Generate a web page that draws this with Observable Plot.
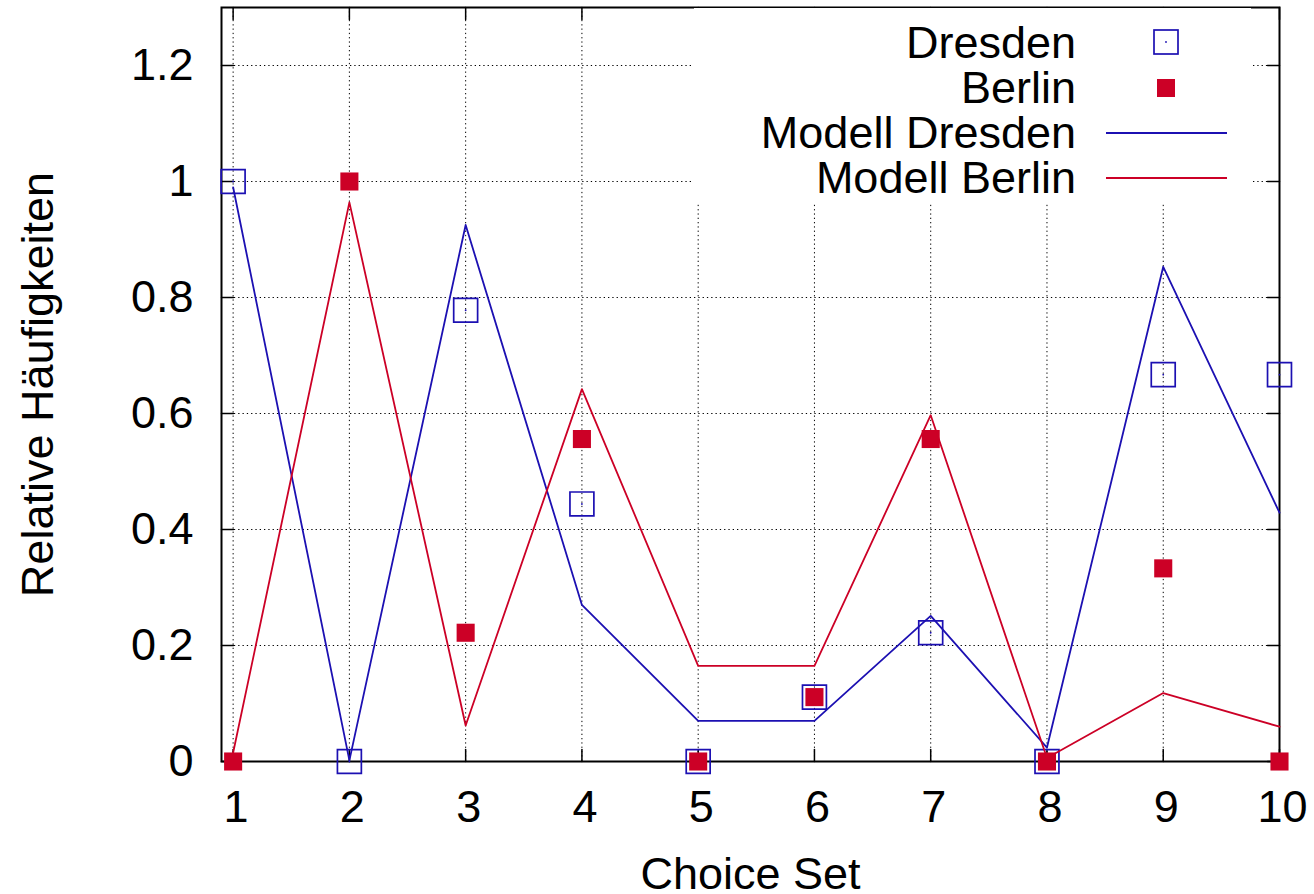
<!DOCTYPE html>
<html>
<head>
<meta charset="utf-8">
<script src="https://cdn.jsdelivr.net/npm/d3@7"></script>
<script src="https://cdn.jsdelivr.net/npm/@observablehq/plot@0.6"></script>
<style>
  html, body { margin: 0; padding: 0; background: white; }
  #wrap { position: relative; width: 1314px; height: 894px; }
  #legend { position: absolute; left: 694px; top: 8px; width: 557px; height: 195px; background: white; }
  svg { font-family: "Liberation Sans", Arial, Helvetica, sans-serif; }
</style>
</head>
<body>
<div id="wrap">
  <div id="chart"></div>
  <div id="legend"></div>
</div>
<script>
// ---- data ----
const choiceSets = [1, 2, 3, 4, 5, 6, 7, 8, 9, 10];
const dresden = [1, 0, 0.778, 0.444, 0, 0.111, 0.222, 0, 0.667, 0.667];
const berlin = [0, 1, 0.222, 0.556, 0, 0.111, 0.556, 0, 0.333, 0];
const modellDresden = [0.99, 0.002, 0.925, 0.270, 0.070, 0.070, 0.251, 0.024, 0.853, 0.429];
const modellBerlin = [0.015, 0.964, 0.062, 0.642, 0.165, 0.165, 0.597, 0.006, 0.118, 0.060];
const xTicks = [1, 2, 3, 4, 5, 6, 7, 8, 9, 10];
const xTickLabels = ["1", "2", "3", "4", "5", "6", "7", "8", "9", "10"];
const yTicks = [0, 0.2, 0.4, 0.6, 0.8, 1, 1.2];
const yTickLabels = ["0", "0.2", "0.4", "0.6", "0.8", "1", "1.2"];
const seriesNames = ["Dresden", "Berlin", "Modell Dresden", "Modell Berlin"];
const xTitle = "Choice Set";
const yTitle = "Relative Häufigkeiten";

const blue = "#1c10b2";
const red = "#cc0026";
const font = '"Liberation Sans", Arial, Helvetica, sans-serif';
const fs = 45;

const rows = (vals) => choiceSets.map((c, i) => ({x: c, y: vals[i]}));
const tickShape = {draw(ctx, l) { ctx.moveTo(0, 0); ctx.lineTo(0, -l); }};
const tickOpts = {length: 12, anchor: "start", shape: tickShape, stroke: "black", strokeWidth: 1.5};
const gridOpts = {stroke: "black", strokeOpacity: 1, strokeWidth: 1, strokeDasharray: "1.3,3"};

const chart = Plot.plot({
  width: 1314,
  height: 894,
  marginLeft: 221,
  marginRight: 35,
  marginTop: 7,
  marginBottom: 133,
  style: {fontFamily: font, fontSize: fs + "px", background: "white", overflow: "visible"},
  x: {domain: [0.9, 10]},
  y: {domain: [0, 1.3]},
  marks: [
    Plot.gridX(xTicks, gridOpts),
    Plot.gridY(yTicks, gridOpts),
    Plot.axisX(xTicks, {tickSize: 0, tickPadding: 29, label: null, fill: "black", fontSize: fs, dx: 3,
      tickFormat: (d) => xTickLabels[xTicks.indexOf(d)]}),
    Plot.axisY(yTicks, {tickSize: 0, tickPadding: 28, label: null, fill: "black", fontSize: fs,
      tickFormat: (d) => yTickLabels[yTicks.indexOf(d)]}),
    Plot.vector(xTicks, {x: (d) => d, frameAnchor: "bottom", rotate: 0, ...tickOpts}),
    Plot.vector(xTicks, {x: (d) => d, frameAnchor: "top", rotate: 180, ...tickOpts}),
    Plot.vector(yTicks, {y: (d) => d, frameAnchor: "left", rotate: 90, ...tickOpts}),
    Plot.vector(yTicks, {y: (d) => d, frameAnchor: "right", rotate: -90, ...tickOpts}),
    Plot.frame({stroke: "black", strokeWidth: 2}),
    Plot.dot(rows(dresden), {x: "x", y: "y", symbol: "square", r: 13.5, stroke: blue, strokeWidth: 1.7, fill: "none"}),
    Plot.dot(rows(dresden), {x: "x", y: "y", r: 0.9, fill: blue, stroke: "none"}),
    Plot.dot(rows(berlin), {x: "x", y: "y", symbol: "square", r: 10.2, fill: red, stroke: "none"}),
    Plot.line(rows(modellDresden), {x: "x", y: "y", stroke: blue, strokeWidth: 1.8}),
    Plot.line(rows(modellBerlin), {x: "x", y: "y", stroke: red, strokeWidth: 1.8}),
    Plot.text([xTitle], {text: (d) => d, frameAnchor: "bottom", dy: 127, lineAnchor: "bottom", textAnchor: "middle", fontSize: fs, fill: "black"}),
    Plot.text([yTitle], {text: (d) => d, frameAnchor: "left", dx: -169, rotate: -90, lineAnchor: "bottom", textAnchor: "middle", fontSize: fs, fill: "black"})
  ]
});
document.getElementById("chart").appendChild(chart);

// ---- legend (HTML overlay, white key box like gnuplot) ----
const lg = d3.select("#legend").append("svg")
  .attr("width", 557).attr("height", 195)
  .style("font-family", font).style("font-size", fs + "px");
const baselines = [50, 95, 140, 185];
seriesNames.forEach((name, i) => {
  lg.append("text").attr("x", 382).attr("y", baselines[i]).attr("text-anchor", "end").attr("fill", "black").text(name);
});
lg.append("rect").attr("x", 460).attr("y", 22).attr("width", 24).attr("height", 24)
  .attr("fill", "none").attr("stroke", blue).attr("stroke-width", 1.7);
lg.append("circle").attr("cx", 472).attr("cy", 34).attr("r", 0.9).attr("fill", blue);
lg.append("rect").attr("x", 463).attr("y", 71).attr("width", 18).attr("height", 18).attr("fill", red);
lg.append("line").attr("x1", 412).attr("x2", 533).attr("y1", 125).attr("y2", 125).attr("stroke", blue).attr("stroke-width", 1.8);
lg.append("line").attr("x1", 412).attr("x2", 533).attr("y1", 170).attr("y2", 170).attr("stroke", red).attr("stroke-width", 1.8);
</script>
</body>
</html>
